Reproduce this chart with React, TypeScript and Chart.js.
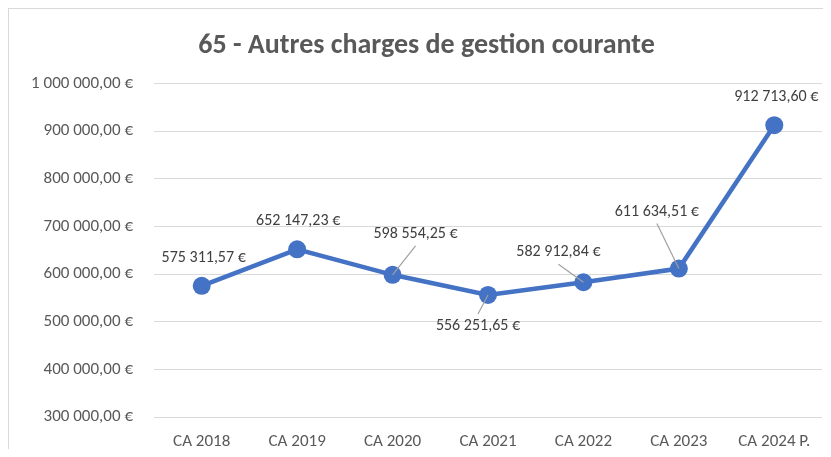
import React, { useEffect, useRef } from "react";
import { Chart, registerables } from "chart.js";

Chart.register(...registerables);

const chartTitle = "65 - Autres charges de gestion courante";
const categories = ["CA 2018", "CA 2019", "CA 2020", "CA 2021", "CA 2022", "CA 2023", "CA 2024 P."];
const values = [575311.57, 652147.23, 598554.25, 556251.65, 582912.84, 611634.51, 912713.6];
const yMin = 300000;
const yMax = 1000000;
const yStep = 100000;

// label placement relative to each point: [dx, dy, leader line]
const labelPlacement: [number, number, boolean][] = [
  [2, -28, false],
  [1, -28, false],
  [23, -41, true],
  [-10, 31, true],
  [-25, -30, true],
  [-22, -57, true],
  [2, -28, false],
];

const FONT = 'Carlito, "Liberation Sans Narrow", "Liberation Sans", sans-serif';
const TICK_COLOR = "#595959";
const LABEL_COLOR = "#404040";
const LINE_COLOR = "#4472C4";
const LABEL_SIZE = 16;

function fmtEuro(v: number): string {
  const [i, d] = Number(v).toFixed(2).split(".");
  const ii = i.replace(/\B(?=(\d{3})+(?!\d))/g, " ");
  return `${ii},${d} €`;
}

const labelPlugin = {
  id: "pointValueLabels",
  afterDatasetsDraw(chart: any) {
    const ctx = chart.ctx as CanvasRenderingContext2D;
    const meta = chart.getDatasetMeta(0);
    ctx.save();
    ctx.font = `${LABEL_SIZE}px ${FONT}`;
    ctx.textAlign = "center";
    ctx.textBaseline = "middle";
    meta.data.forEach((pt: any, i: number) => {
      const [dx, dy, leader] = labelPlacement[i];
      const lx = pt.x + dx;
      const ly = pt.y + dy;
      if (leader) {
        const sy = dy < 0 ? ly + 12 : ly - 12;
        ctx.strokeStyle = "#a0a0a0";
        ctx.lineWidth = 1.2;
        ctx.beginPath();
        ctx.moveTo(lx, sy);
        ctx.lineTo(pt.x, pt.y);
        ctx.stroke();
      }
      ctx.fillStyle = LABEL_COLOR;
      ctx.fillText(fmtEuro(values[i]), lx, ly);
    });
    ctx.restore();
  },
};

export default function App() {
  const ref = useRef<HTMLCanvasElement | null>(null);
  useEffect(() => {
    document.body.style.overflow = "hidden";
    if (!ref.current) return;
    const chart = new Chart(ref.current, {
      type: "line",
      data: {
        labels: categories,
        datasets: [
          {
            data: values,
            borderColor: LINE_COLOR,
            backgroundColor: LINE_COLOR,
            borderWidth: 4.5,
            pointRadius: 9,
            pointHoverRadius: 9,
            pointBorderWidth: 0,
            pointBackgroundColor: LINE_COLOR,
            tension: 0,
          },
        ],
      },
      options: {
        responsive: false,
        animation: false,
        layout: { padding: { left: 22, right: 9, top: 0, bottom: 0 } },
        plugins: {
          legend: { display: false },
          tooltip: { enabled: false },
          title: {
            display: true,
            text: chartTitle,
            color: TICK_COLOR,
            font: { family: FONT, size: 28, weight: "bold" },
            padding: { top: 20, bottom: 21 },
          },
        },
        scales: {
          x: {
            offset: true,
            grid: { display: false, drawTicks: false },
            border: { display: false },
            ticks: { color: TICK_COLOR, font: { family: FONT, size: 17 }, padding: 15, maxRotation: 0 },
            afterFit: (s: any) => {
              s.height = 32;
            },
          },
          y: {
            min: yMin,
            max: yMax,
            grid: { color: "#d9d9d9", lineWidth: 1, drawTicks: false },
            border: { display: false },
            ticks: {
              stepSize: yStep,
              color: TICK_COLOR,
              font: { family: FONT, size: 17 },
              padding: 21,
              callback: (v: any) => fmtEuro(Number(v)),
            },
            afterFit: (s: any) => {
              s.width = 123;
            },
          },
        },
      },
      plugins: [labelPlugin],
    } as any);
    return () => chart.destroy();
  }, []);
  return (
    <div
      style={{
        width: 822,
        height: 440,
        borderTop: "1px solid #d9d9d9",
        borderLeft: "1px solid #d9d9d9",
      }}
    >
      <canvas ref={ref} width={822} height={440} style={{ display: "block", width: 822, height: 440 }} />
    </div>
  );
}
